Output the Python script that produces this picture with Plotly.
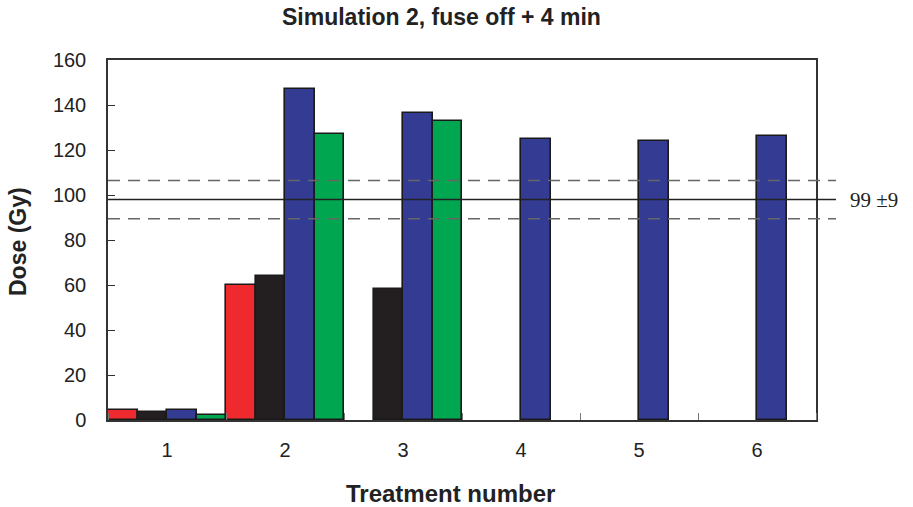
import plotly.graph_objects as go

treatments = [1, 2, 3, 4, 5, 6]
tick_labels = ["1", "2", "3", "4", "5", "6"]
series_red = [4.5, 60, None, None, None, None]
series_black = [3.7, 64, 58.3, None, None, None]
series_blue = [4.5, 147, 136.5, 125, 124.2, 126.3]
series_green = [2.2, 127, 132.8, None, None, None]
mean_dose = 98
sd_dose = 8.5
mean_label = "99 ±9"

colors = {"red": "#EE2A2F", "black": "#231F20", "blue": "#333B93", "green": "#00A650"}

fig = go.Figure()
for name, vals in [("red", series_red), ("black", series_black), ("blue", series_blue), ("green", series_green)]:
    fig.add_trace(go.Bar(x=treatments, y=vals, name=name,
                         marker=dict(color=colors[name], line=dict(color="#1a1a1a", width=1.6)),
                         showlegend=False))

x1_ext = (836 - 108) / 708
fig.add_shape(type="line", xref="paper", yref="y", x0=0, x1=x1_ext, y0=mean_dose, y1=mean_dose,
              line=dict(color="#222", width=1.3))
for v in (mean_dose - sd_dose, mean_dose + sd_dose):
    fig.add_shape(type="line", xref="paper", yref="y", x0=0, x1=x1_ext, y0=v, y1=v,
                  line=dict(color="#666", width=1.5, dash="12px,8px"))

fig.add_annotation(xref="paper", yref="y", x=(848 - 108) / 708, y=mean_dose, text=mean_label,
                   showarrow=False, xanchor="left", yanchor="middle",
                   font=dict(family="Liberation Serif", size=21, color="#222"))

fig.add_annotation(xref="paper", yref="paper", x=(441 - 108) / 708, y=1 + (60 - 17) / 360,
                   text="<b>Simulation 2, fuse off + 4 min</b>", showarrow=False,
                   xanchor="center", yanchor="middle",
                   font=dict(family="Liberation Sans", size=23, color="#222"))
fig.add_annotation(xref="paper", yref="paper", x=(450 - 108) / 708, y=(420 - 493) / 360,
                   text="<b>Treatment number</b>", showarrow=False,
                   xanchor="center", yanchor="middle",
                   font=dict(family="Liberation Sans", size=24, color="#222"))
fig.add_annotation(xref="paper", yref="paper", x=(18 - 108) / 708, y=(420 - 242) / 360,
                   text="<b>Dose (Gy)</b>", showarrow=False, textangle=-90,
                   xanchor="center", yanchor="middle",
                   font=dict(family="Liberation Sans", size=23, color="#222"))

fig.update_layout(
    width=913, height=507,
    margin=dict(l=108, r=97, t=60, b=87),
    paper_bgcolor="white", plot_bgcolor="white",
    barmode="group", bargap=0, bargroupgap=0,
    font=dict(family="Liberation Sans", size=20, color="#222"),
)
fig.update_xaxes(range=[0.5, 6.5], tickvals=treatments, ticktext=tick_labels,
                 ticks="", showgrid=False, zeroline=False,
                 showline=True, mirror=True, linecolor="#333", linewidth=1.5,
                 ticklabelstandoff=11,
                 minor=dict(tick0=0.5, dtick=1, ticks="inside", ticklen=7, tickcolor="#777", tickwidth=1.2, showgrid=False))
fig.update_yaxes(range=[0, 160], dtick=20, tick0=0, ticks="inside", ticklen=7, tickcolor="#333", tickwidth=1.2,
                 showgrid=False, zeroline=False,
                 showline=True, mirror=True, linecolor="#333", linewidth=1.5,
                 ticklabelstandoff=16)

fig.write_html("out.html", config={"displayModeBar": False},
               post_script="document.body.style.margin='0px';document.body.style.overflow='hidden';")
